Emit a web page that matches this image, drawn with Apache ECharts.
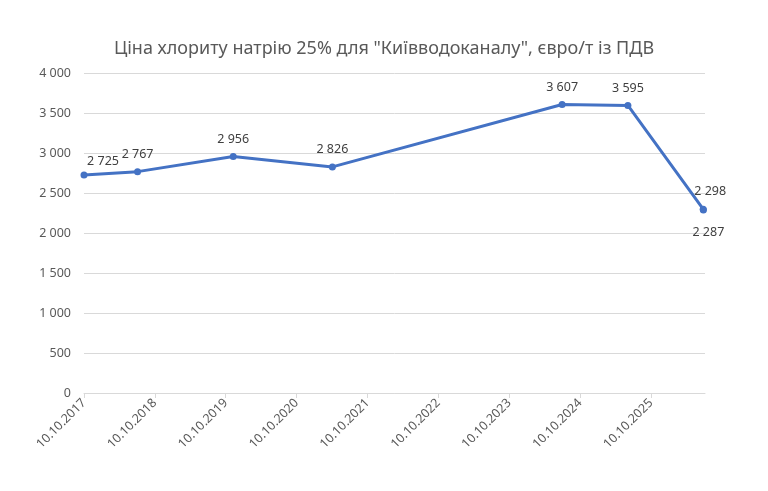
<!DOCTYPE html>
<html><head><meta charset="utf-8">
<script src="https://cdn.jsdelivr.net/npm/echarts@6/dist/echarts.min.js"></script>
<style>html,body{margin:0;padding:0;background:#fff}#c{width:768px;height:491px}</style>
</head><body><div id="c"></div>
<script>
const title = 'Ціна хлориту натрію 25% для "Київводоканалу", євро/т із ПДВ';
const dates = ['2017-10-10','2018-07-13','2019-11-18','2021-04-12','2024-07-09','2025-06-13','2026-07-06','2026-07-07'];
const values = [2725, 2767, 2956, 2826, 3607, 3595, 2298, 2287];
const tickLabels = ['10.10.2017','10.10.2018','10.10.2019','10.10.2020','10.10.2021','10.10.2022','10.10.2023','10.10.2024','10.10.2025'];

const YEAR = 365.25*86400000;
const start = Date.parse(tickLabels[0].split('.').reverse().join('-'));
const fmt = v => String(v).replace(/\B(?=(\d{3})+(?!\d))/g, ' ');
const FONT = 'Noto Sans';
const data = dates.map((d,i) => {
  const item = {value: [(Date.parse(d)-start)/YEAR, values[i]]};
  if (i === 0) item.label = {offset: [19, 3]};
  if (i === dates.length-2) item.label = {position: 'top', offset: [7, -1]};
  if (i === dates.length-1) item.label = {position: 'bottom', offset: [5, 5]};
  return item;
});
const chart = echarts.init(document.getElementById('c'), null, {renderer:'canvas'});
chart.setOption({
  animation: false,
  title: {text: title, left: 'center', top: 35, textStyle: {fontFamily: FONT, fontSize: 18, fontWeight: 'normal', color: '#595959'}},
  grid: {left: 84, right: 63, top: 73, bottom: 98, containLabel: false},
  xAxis: {
    type: 'value', min: 0, max: 8.762, interval: 1,
    axisLine: {show: true, lineStyle: {color: '#d9d9d9', width: 1}},
    axisTick: {show: true, length: 5, lineStyle: {color: '#d9d9d9'}, customValues: tickLabels.map((t,i)=>i)},
    splitLine: {show: false},
    axisLabel: {rotate: 45, color: '#595959', fontFamily: FONT, fontSize: 12.5, margin: 8,
      customValues: tickLabels.map((t,i)=>i),
      formatter: v => tickLabels[Math.round(v)] || ''}
  },
  yAxis: {
    type: 'value', min: 0, max: 4000, interval: 500,
    axisLine: {show: false}, axisTick: {show: false},
    splitLine: {lineStyle: {color: '#d9d9d9', width: 1}},
    axisLabel: {color: '#595959', fontFamily: FONT, fontSize: 12.5, margin: 13, formatter: v => fmt(v)}
  },
  series: [{
    type: 'line', data: data,
    lineStyle: {color: '#4472C4', width: 3},
    itemStyle: {color: '#4472C4'},
    symbol: 'circle', symbolSize: 7,
    label: {show: true, position: 'top', distance: 7, color: '#404040', fontFamily: FONT, fontSize: 12.5, formatter: p => fmt(p.value[1])}
  }]
});
</script></body></html>
